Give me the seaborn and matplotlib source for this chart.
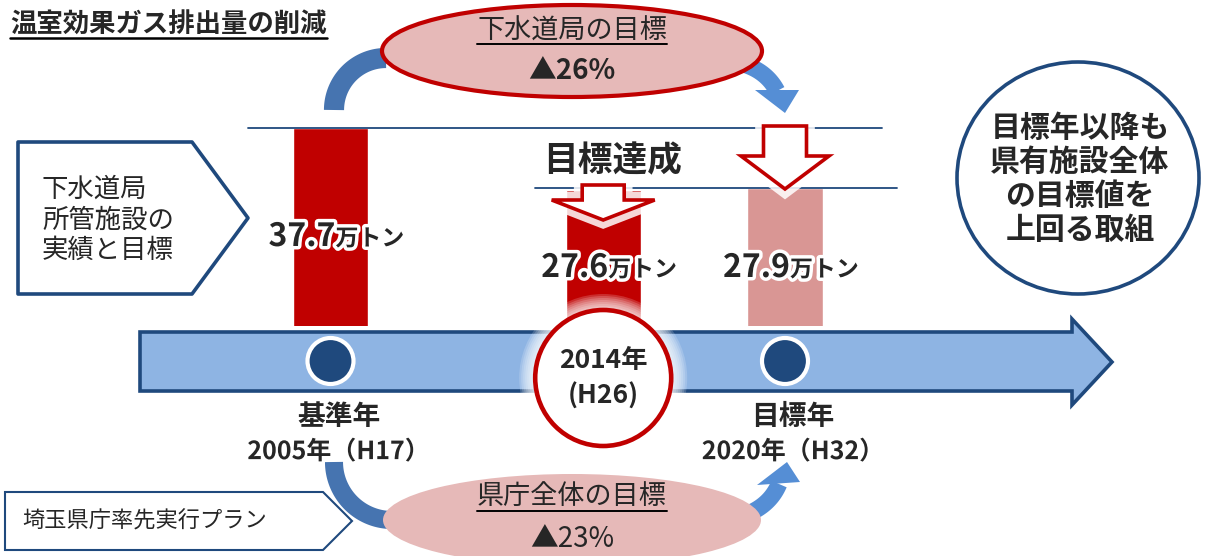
import numpy as np
import pandas as pd
import seaborn as sns
import matplotlib.pyplot as plt
from matplotlib.patches import Ellipse, Circle, Polygon
import matplotlib.patheffects as pe

# data
years = [2005, 2014, 2020]
emissions = [37.7, 27.6, 27.9]          # 万トン
status = ["基準年", "実績", "目標年"]
era = ["H17", "H26", "H32"]
sewer_cut = 26                           # 下水道局の目標 (%)
pref_cut = 23                            # 県庁全体の目標 (%)

bar_colors = {"基準年": "#C00000", "実績": "#C00000", "目標年": "#D99694"}
NAVY = "#1F497D"
RED = "#C00000"
PINK = "#E6B9B8"

sns.set_style("white")
plt.rcParams['font.family'] = ['Noto Sans CJK JP', 'DejaVu Sans']

W, H = 1208, 556
fig = plt.figure(figsize=(W / 100, H / 100), dpi=100)

# bar axes: x in years, y in 万トン (baseline sits on top of the timeline)
base_px = 326
px_per_year = 30.3
first_px = 330.5
px_per_unit = 6.122
v_floor = 5.36
bx = fig.add_axes([0, 1 - base_px / H, 1, base_px / H], zorder=1)
df = pd.DataFrame({"year": years, "value": emissions, "status": status})
sns.barplot(data=df, x="year", y="value", hue="status", palette=bar_colors,
            native_scale=True, width=2.48 / 6, dodge=False, saturation=1,
            legend=False, ax=bx)
bx.set_xlim(years[0] - first_px / px_per_year, years[0] + (W - first_px) / px_per_year)
bx.set_ylim(v_floor, v_floor + base_px / px_per_unit)
bx.axis("off")

# drawing axes in pixel units on top
ax = fig.add_axes([0, 0, 1, 1], zorder=2)
ax.set_xlim(0, W)
ax.set_ylim(H, 0)
ax.axis("off")
ax.patch.set_alpha(0)


def year_px(y):
    return ax.transData.inverted().transform(bx.transData.transform((y, 10)))[0]


def underline(txt, y, lw=1.4):
    r = fig.canvas.get_renderer()
    bb = txt.get_window_extent(r)
    inv = ax.transData.inverted()
    xa = inv.transform((bb.x0, bb.y0))[0]
    xb = inv.transform((bb.x1, bb.y0))[0]
    ax.plot([xa, xb], [y, y], color="black", lw=lw, zorder=7)


glow = [pe.withStroke(linewidth=5, foreground="white")]

# title
t = ax.text(10, 25, "温室効果ガス排出量の削減", fontsize=19, fontweight="bold",
            ha="left", va="center", zorder=7)
underline(t, 38, lw=1.8)

# left pentagon
ax.add_patch(Polygon([(18, 142), (192, 142), (248, 218), (192, 294), (18, 294)],
                     closed=True, fc="white", ec=NAVY, lw=2.6, joinstyle="round", zorder=3))
ax.text(42, 220, "下水道局\n所管施設の\n実績と目標", fontsize=19, ha="left", va="center",
        linespacing=1.18, zorder=6)

# guide lines
ax.plot([248, 882], [128, 128], color=NAVY, lw=1.3, zorder=3)
ax.plot([535, 897], [188, 188], color=NAVY, lw=1.3, zorder=3)
ax.text(613, 161, "目標達成", fontsize=25, fontweight="bold", ha="center", va="center", zorder=6)


def down_arrow(cx, top, base, tip, shaft_hw, head_hw):
    pts = [(cx - shaft_hw, top), (cx + shaft_hw, top), (cx + shaft_hw, base),
           (cx + head_hw, base), (cx, tip), (cx - head_hw, base), (cx - shaft_hw, base)]
    ax.add_patch(Polygon(pts, closed=True, fc="white", ec=RED, lw=2.6, joinstyle="miter",
                         zorder=5, path_effects=[pe.Stroke(linewidth=12, foreground="white", alpha=0.85),
                                                 pe.Normal()]))


down_arrow(year_px(years[1]), 185, 200, 220, 21, 51.5)
down_arrow(year_px(years[2]), 126, 156, 189, 21.5, 44)

# value labels
label_y = [237, 268, 268]
for yr, v, ly in zip(years, emissions, label_y):
    px = year_px(yr) + 5
    ax.text(px, ly, f"{v:.1f}", fontsize=23, fontweight="bold", ha="right", va="center",
            zorder=6, path_effects=glow)
    ax.text(px, ly + 2, "万トン", fontsize=16.5, fontweight="bold", ha="left", va="center",
            zorder=6, path_effects=glow)

# timeline arrow
ax.add_patch(Polygon([(140, 332), (1072, 332), (1072, 319), (1112, 362), (1072, 405),
                      (1072, 391), (140, 391)], closed=True, fc="#8EB4E3", ec=NAVY,
                     lw=2.6, joinstyle="miter", zorder=3))
for yr in (years[0], years[2]):
    ax.add_patch(Circle((year_px(yr), 361), 23, fc=NAVY, ec="white", lw=3, zorder=4))

# 2014 circle with soft glow
cx14 = year_px(years[1])
for k in np.arange(16, 0, -2):
    ax.add_patch(Circle((cx14, 378), 68 + k, fc="white", ec="none", alpha=0.18, zorder=4))
ax.add_patch(Circle((cx14, 378), 68, fc="white", ec=RED, lw=3.3, zorder=5))
ax.text(cx14, 360, f"{years[1]}年", fontsize=19, fontweight="bold", ha="center", va="center", zorder=6)
ax.text(cx14, 396, f"({era[1]})", fontsize=19, fontweight="bold", ha="center", va="center", zorder=6)

for yr, e, name in [(years[0], era[0], "基準年"), (years[2], era[2], "目標年")]:
    px = year_px(yr) + 8
    ax.text(px, 417, name, fontsize=20, fontweight="bold", ha="center", va="center", zorder=6)
    ax.text(px, 452, f"{yr}年（{e}）", fontsize=18, fontweight="bold", ha="center",
            va="center", zorder=6, path_effects=glow)

# curved arrows
DARK_BLUE = "#4674B0"
LIGHT_BLUE = "#558ED5"
tt = np.linspace(np.pi, np.pi / 2, 60)
ax.plot(386 + 52 * np.cos(tt), 110 - 52 * np.sin(tt), color=DARK_BLUE, lw=14.5,
        solid_capstyle="butt", zorder=3)
tt = np.linspace(np.pi, 1.5 * np.pi, 60)
ax.plot(392 + 58 * np.cos(tt), 462 - 58 * np.sin(tt), color=DARK_BLUE, lw=13,
        solid_capstyle="butt", zorder=3)


def bezier(p0, p1, p2, n=60):
    s = np.linspace(0, 1, n)[:, None]
    pts = (1 - s) ** 2 * np.array(p0) + 2 * (1 - s) * s * np.array(p1) + s ** 2 * np.array(p2)
    return pts[:, 0], pts[:, 1]


bxs, bys = bezier((735, 62), (765, 68), (777, 91))
ax.plot(bxs, bys, color=LIGHT_BLUE, lw=12, solid_capstyle="butt", zorder=3)
ax.add_patch(Polygon([(755, 90), (799, 90), (785, 113)], closed=True, fc=LIGHT_BLUE,
                     ec="none", zorder=3))
bxs, bys = bezier((735, 518), (768, 510), (779, 484))
ax.plot(bxs, bys, color=LIGHT_BLUE, lw=12, solid_capstyle="butt", zorder=3)
ax.add_patch(Polygon([(757, 485), (800, 482), (787, 462)], closed=True, fc=LIGHT_BLUE,
                     ec="none", zorder=3))

# top ellipse
ax.add_patch(Ellipse((572, 51), 380, 92, fc=PINK, ec=RED, lw=3, zorder=4))
t = ax.text(572, 31, "下水道局の目標", fontsize=19.5, ha="center", va="center", zorder=6)
underline(t, 44)
ax.text(572, 71, f"▲{sewer_cut}%", fontsize=20, fontweight="bold", ha="center", va="center", zorder=6)

# bottom ellipse
ax.add_patch(Ellipse((572, 520), 378, 92, fc=PINK, ec="none", zorder=4))
t = ax.text(572, 496, "県庁全体の目標", fontsize=19.5, ha="center", va="center", zorder=6)
underline(t, 511)
ax.text(572, 539, f"▲{pref_cut}%", fontsize=20, ha="center", va="center", zorder=6)

# bottom pentagon
ax.add_patch(Polygon([(5, 492), (323, 492), (352, 521), (323, 550), (5, 550)], closed=True,
                     fc="white", ec=NAVY, lw=1.5, joinstyle="miter", zorder=3))
ax.text(22, 521, "埼玉県庁率先実行プラン", fontsize=16, ha="left", va="center", zorder=6)

# right circle
ax.add_patch(Ellipse((1078, 178), 242, 232, fc="white", ec=NAVY, lw=2.6, zorder=3))
ax.text(1080, 179, "目標年以降も\n県有施設全体\nの目標値を\n上回る取組", fontsize=21.5,
        fontweight="bold", ha="center", va="center", linespacing=1.18, zorder=6)

fig.savefig("out.png", dpi=100)
